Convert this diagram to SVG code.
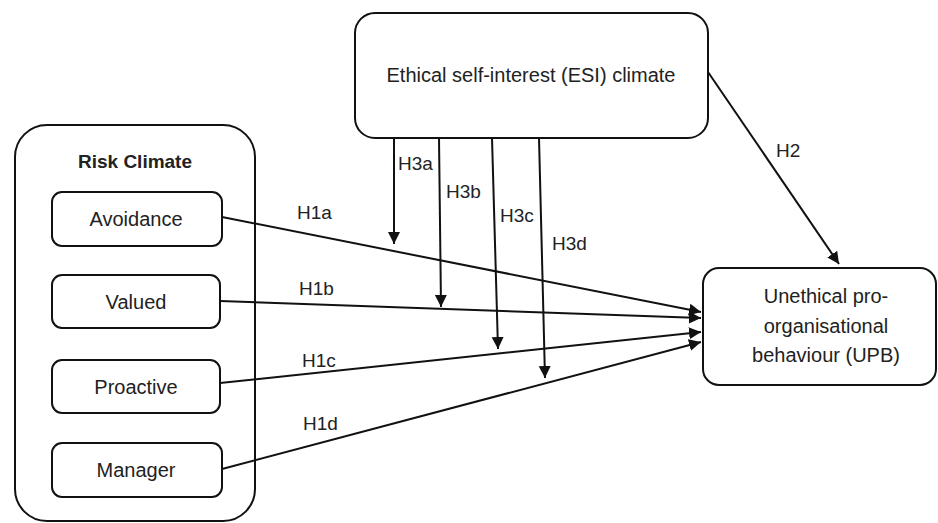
<svg xmlns="http://www.w3.org/2000/svg" width="938" height="523" viewBox="0 0 938 523">
<defs>
<style>
.box{fill:#fff;stroke:#111;stroke-width:2}
.t{font-family:"Liberation Sans",Arial,sans-serif;font-size:20px;fill:#222;text-anchor:middle}
.lbl{font-family:"Liberation Sans",Arial,sans-serif;font-size:19px;fill:#222}
.b{font-weight:bold;font-size:19px}
.c{fill:none;stroke:#111;stroke-width:2;marker-end:url(#ah)}
</style>
<marker id="ah" markerUnits="userSpaceOnUse" markerWidth="14" markerHeight="14" refX="12" refY="7" orient="auto">
<path d="M0,1 L12,7 L0,13 z" fill="#111"/>
</marker>
</defs>
<rect width="938" height="523" fill="#fff"/>
<g id="risk-climate">
<rect class="box" x="15" y="125" width="240" height="396" rx="32"/>
<text class="t b" x="135" y="168">Risk Climate</text>
</g>
<g id="avoidance">
<rect class="box" x="52" y="192" width="170" height="54" rx="10"/>
<text class="t" x="136" y="226">Avoidance</text>
</g>
<g id="valued">
<rect class="box" x="52" y="275" width="168" height="53" rx="10"/>
<text class="t" x="136" y="309">Valued</text>
</g>
<g id="proactive">
<rect class="box" x="52" y="360" width="168" height="53" rx="10"/>
<text class="t" x="136" y="394">Proactive</text>
</g>
<g id="manager">
<rect class="box" x="52" y="443" width="170" height="54" rx="10"/>
<text class="t" x="136" y="477">Manager</text>
</g>
<g id="esi">
<rect class="box" x="355" y="13" width="353" height="125" rx="20"/>
<text class="t" x="531" y="82">Ethical self-interest (ESI) climate</text>
</g>
<g id="upb">
<rect class="box" x="703" y="268" width="233" height="117" rx="16"/>
<text class="t" x="826" y="303">Unethical pro-</text>
<text class="t" x="826" y="333">organisational</text>
<text class="t" x="826" y="362">behaviour (UPB)</text>
</g>
<g id="connectors">
<line class="c" x1="222" y1="217" x2="701" y2="312"/>
<line class="c" x1="220" y1="301" x2="701" y2="318"/>
<line class="c" x1="220" y1="383" x2="701" y2="332"/>
<line class="c" x1="222" y1="469" x2="701" y2="342"/>
<line class="c" x1="394" y1="138" x2="394" y2="244"/>
<line class="c" x1="439" y1="138" x2="441" y2="307"/>
<line class="c" x1="492" y1="138" x2="498" y2="349"/>
<line class="c" x1="539" y1="138" x2="545" y2="378"/>
<line class="c" x1="708" y1="72" x2="839" y2="264"/>
<text class="lbl" x="297" y="219">H1a</text>
<text class="lbl" x="299" y="295">H1b</text>
<text class="lbl" x="302" y="367">H1c</text>
<text class="lbl" x="303" y="430">H1d</text>
<text class="lbl" x="398" y="170">H3a</text>
<text class="lbl" x="446" y="198">H3b</text>
<text class="lbl" x="500" y="222">H3c</text>
<text class="lbl" x="552" y="250">H3d</text>
<text class="lbl" x="776" y="157">H2</text>
</g>
</svg>
